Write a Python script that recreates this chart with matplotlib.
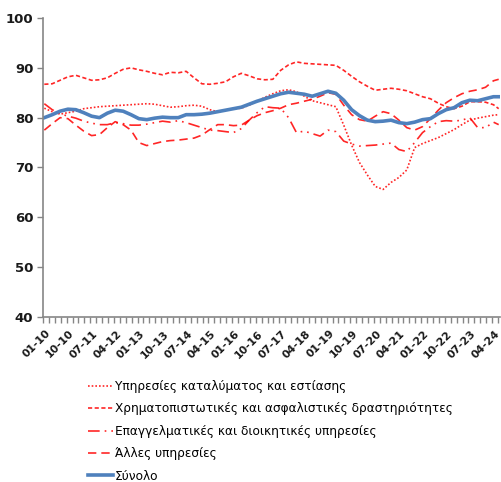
import numpy as np
import pandas as pd
import matplotlib
matplotlib.use("Agg")
import matplotlib.pyplot as plt
import matplotlib.transforms as mtransforms

# Sample months (quarterly readings + final month)
months = list(pd.period_range("2010-01", "2024-04", freq="3M").strftime("%Y-%m")) + ["2024-06"]

accommodation = [81.9, 81.2, 80.7, 81.0, 81.3, 81.8, 82.0, 82.2, 82.3, 82.4,
                 82.5, 82.6, 82.7, 82.8, 82.7, 82.4, 82.1, 82.2, 82.4, 82.5,
                 82.3, 81.6, 81.2, 81.5, 81.8, 81.9, 82.5, 83.3, 84.1, 84.8,
                 85.4, 85.6, 85.2, 84.3, 83.4, 83.0, 82.6, 82.2, 78.5, 74.5,
                 71.0, 68.5, 66.2, 65.6, 67.0, 68.0, 69.5, 74.0, 74.8, 75.4,
                 76.0, 76.8, 77.6, 78.6, 79.5, 79.9, 80.2, 80.5, 80.6]
financial = [86.7, 86.8, 87.5, 88.2, 88.5, 88.0, 87.5, 87.6, 88.0, 88.9,
             89.7, 90.0, 89.6, 89.3, 88.9, 88.6, 89.1, 89.0, 89.3, 88.0,
             86.8, 86.7, 86.9, 87.2, 88.2, 88.9, 88.4, 87.8, 87.6, 87.7,
             89.5, 90.6, 91.2, 90.9, 90.8, 90.7, 90.6, 90.5, 89.5, 88.3,
             87.2, 86.3, 85.5, 85.7, 85.9, 85.7, 85.4, 84.8, 84.2, 83.8,
             82.9, 82.2, 81.8, 82.3, 83.2, 83.2, 83.1, 82.6, 81.8]
professional = [82.8, 81.6, 80.8, 80.3, 79.9, 79.3, 78.9, 78.6, 78.6, 79.0,
                78.8, 78.5, 78.5, 78.7, 79.0, 79.3, 79.1, 79.4, 79.0, 78.5,
                78.0, 77.5, 77.4, 77.2, 77.0, 77.8, 79.5, 81.0, 82.2, 82.0,
                81.9, 80.0, 77.0, 77.3, 76.8, 76.3, 77.5, 77.2, 75.3, 74.7,
                74.3, 74.4, 74.5, 74.7, 74.9, 73.6, 73.2, 75.0, 77.0, 78.2,
                79.2, 79.4, 79.3, 79.5, 80.0, 78.0, 78.0, 79.1, 78.6]
other = [77.5, 78.8, 80.0, 79.8, 78.5, 77.3, 76.4, 76.6, 78.0, 79.2,
         78.6, 77.5, 75.0, 74.4, 74.8, 75.2, 75.4, 75.5, 75.7, 75.9,
         76.5, 77.6, 78.6, 78.6, 78.4, 78.5, 79.5, 80.4, 81.0, 81.4,
         81.9, 82.6, 82.9, 83.3, 83.7, 84.3, 85.0, 84.7, 82.5, 80.6,
         79.6, 79.3, 80.3, 81.2, 80.8, 79.5, 78.0, 77.5, 78.2, 79.8,
         81.5, 83.0, 84.0, 84.8, 85.3, 85.6, 86.1, 87.4, 87.7]
total = [80.0, 80.6, 81.3, 81.7, 81.6, 81.0, 80.3, 80.0, 80.9, 81.5,
         81.3, 80.6, 79.8, 79.6, 79.9, 80.1, 80.0, 80.0, 80.6, 80.6,
         80.7, 80.9, 81.2, 81.5, 81.8, 82.1, 82.7, 83.3, 83.8, 84.3,
         84.8, 85.1, 84.9, 84.7, 84.3, 84.8, 85.3, 84.9, 83.5, 81.6,
         80.4, 79.5, 79.2, 79.3, 79.5, 79.0, 78.8, 79.1, 79.6, 79.8,
         80.8, 81.6, 82.0, 83.0, 83.5, 83.4, 83.8, 84.2, 84.2]

labels = ["Υπηρεσίες καταλύματος και εστίασης",
          "Χρηματοπιστωτικές και ασφαλιστικές δραστηριότητες",
          "Επαγγελματικές και διοικητικές υπηρεσίες",
          "Άλλες υπηρεσίες",
          "Σύνολο"]

# All months on the category axis
all_months = pd.period_range("2010-01", "2024-06", freq="M")
month_index = {p.strftime("%Y-%m"): i for i, p in enumerate(all_months)}
x = np.array([month_index[m] for m in months])

red = "#FF0000"
blue = "#4F81BD"

fig = plt.figure(figsize=(5.01, 4.82), dpi=100)
ax = fig.add_axes([43 / 501, 1 - 317 / 482, 457 / 501, 299 / 482])

ax.plot(x, accommodation, color=red, lw=1.2, ls=(0, (1, 1.2)), label=labels[0], alpha=0.85)
ax.plot(x, financial, color=red, lw=1.2, ls=(0, (2.5, 1.5)), label=labels[1], alpha=0.85)
ax.plot(x, professional, color=red, lw=1.2, ls=(0, (7, 3, 1, 3, 1, 3)), label=labels[2], alpha=0.85)
ax.plot(x, other, color=red, lw=1.2, ls=(0, (5, 3)), label=labels[3], alpha=0.85)
ax.plot(x, total, color=blue, lw=2.6, label=labels[4])

ax.set_ylim(40, 100)
ax.set_xlim(-0.5, len(all_months) - 0.5)
ax.set_yticks(range(40, 101, 10))

tick_pos = list(range(0, len(all_months), 9))
ax.set_xticks(tick_pos)
ax.set_xticklabels([all_months[i].strftime("%m-%y") for i in tick_pos],
                   rotation=45, ha="right", va="center", rotation_mode="anchor")
ax.set_xticks(np.arange(-0.5, len(all_months), 2.25), minor=True)
ax.tick_params(axis="x", which="major", length=0)
ax.tick_params(axis="x", which="minor", length=4, width=1, color="#868686")
ax.tick_params(axis="y", length=4, width=1, color="#868686", pad=3)
offset = mtransforms.ScaledTranslation(4.5 / 100, -10 / 100, fig.dpi_scale_trans)
for lab in ax.get_xticklabels():
    lab.set_transform(lab.get_transform() + offset)
    lab.set_fontweight("bold")
    lab.set_fontsize(7.8)
    lab.set_fontfamily("DejaVu Sans")
    lab.set_color("#1a1a1a")
for lab in ax.get_yticklabels():
    lab.set_fontweight("bold")
    lab.set_fontsize(9.5)
    lab.set_fontfamily("DejaVu Sans")
    lab.set_color("#1a1a1a")

for s in ["top", "right"]:
    ax.spines[s].set_visible(False)
for s in ["left", "bottom"]:
    ax.spines[s].set_color("#868686")
    ax.spines[s].set_linewidth(1.2)

handles, labs = ax.get_legend_handles_labels()
fig.legend(handles, labs, loc="upper left", bbox_to_anchor=(88 / 501, 1 - 380 / 482),
           frameon=False, handlelength=2.1, handletextpad=0.15, labelspacing=0.78,
           borderpad=0, borderaxespad=0,
           prop={"family": "DejaVu Sans", "size": 8.7})

fig.savefig("out.png", dpi=100)
